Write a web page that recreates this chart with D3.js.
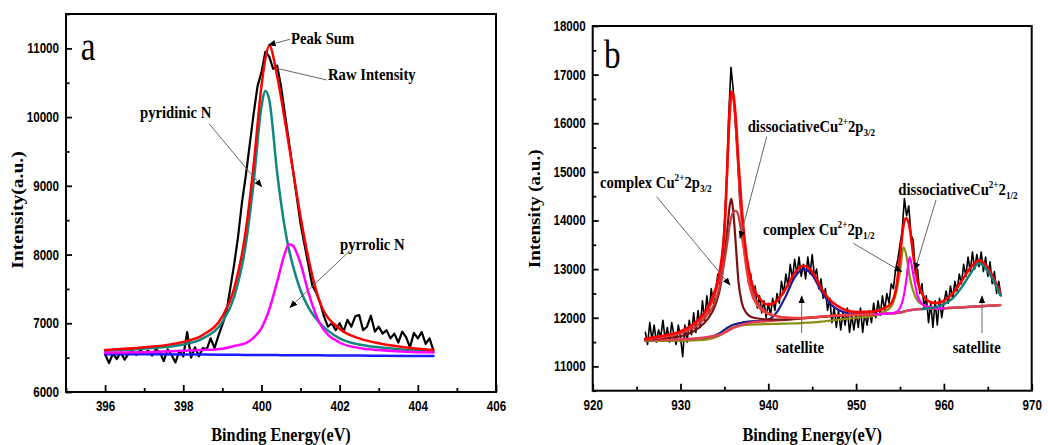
<!DOCTYPE html>
<html><head><meta charset="utf-8">
<script src="https://cdn.jsdelivr.net/npm/d3@7"></script>
<style>
html,body{margin:0;padding:0;background:#fff;}
svg{display:block;}
</style></head>
<body>
<svg id="chart" width="1048" height="445"></svg>
<script>
// ================= Panel a : N 1s =================
const aTicksX = [396, 398, 400, 402, 404, 406];
const aMinorX = [395, 397, 399, 401, 403, 405];
const aTicksY = [6000, 7000, 8000, 9000, 10000, 11000];
const aMinorY = [6500, 7500, 8500, 9500, 10500, 11500];

const aRawStart = 396, aRawStep = 0.1;
const aRaw = [6550,6420,6560,6480,6580,6470,6560,6600,6540,6610,
  6560,6600,6530,6620,6580,6450,6620,6540,6430,6600,
  6520,6870,6500,6650,6520,6640,6620,6780,6640,6820,
  6980,7150,7500,7850,8250,8750,9150,9600,10050,10450,
  10650,10950,10880,10700,10750,10450,10050,9650,9250,8850,
  8450,8150,7850,7550,7450,7300,7100,6950,7000,6900,
  7000,6880,7050,6950,7100,7120,6900,6950,7110,6880,
  6950,6850,6900,6780,6850,6720,6880,6800,6650,6860,
  6780,6870,6700,6780,6600];

const aFitE = [396, 397, 398, 398.5, 399, 399.3, 399.6, 399.8, 400, 400.1, 400.2, 400.4, 400.6, 400.7, 400.8, 401, 401.2, 401.5, 402, 402.5, 403, 404, 404.4];
const aPyridinic = [6600,6630,6690,6780,7020,7380,8150,9050,10150,10380,10250,9200,8380,8080,7850,7480,7230,7000,6780,6690,6650,6600,6585];
const aPyrrolic  = [6570,6580,6600,6610,6630,6670,6710,6790,6930,7050,7200,7600,8020,8150,8130,7870,7450,6990,6720,6640,6610,6580,6575];
const aPeakSum   = [6610,6650,6730,6830,7100,7500,8350,9300,10450,10850,11040,10600,9950,9600,9250,8550,7950,7300,6920,6780,6710,6630,6610];
const aBackground= [6550,6548,6545,6544,6542,6541,6540,6539,6538,6538,6537,6537,6536,6536,6535,6535,6534,6533,6531,6530,6528,6524,6522];

// ================= Panel b : Cu 2p =================
const bTicksX = [920, 930, 940, 950, 960, 970];
const bMinorX = [925, 935, 945, 955, 965];
const bTicksY = [11000, 12000, 13000, 14000, 15000, 16000, 17000, 18000];
const bMinorY = [10500, 11500, 12500, 13500, 14500, 15500, 16500, 17500];

const bRawStart = 926, bRawStep = 0.25;
const bRaw = [11700,11450,11900,11550, 11850,11500,11750,11600, 11950,11550,11800,11500,
  11900,11650,11450,11850, 11600,11200,11850,11500, 11950,11650,12100,11700,
  12150,11800,12350,11950, 12450,12100,12600,12300, 12550,12900,12700,13300,
  13900,14800,16200,17150, 16700,16000,15300,14400, 14000,13500,13200,12700,
  12900,12400,12650,12200, 12450,12100,12350,12000, 12300,12050,12400,12150,
  12500,12300,12750,12500, 12900,12650,13100,12800, 13200,12900,13250,12850,
  13100,12800,13250,12900, 13300,12850,13000,12600, 12800,12400,12600,12150,
  12400,11900,12200,11800, 12150,11750,12100,11850, 12200,11700,12050,11750,
  12100,11800,12200,11700, 12100,11850,12150,11900, 12300,12000,12350,12050,
  12450,12150,12500,12300, 12700,12600,13000,13200, 13500,13800,14450,14100,
  14300,13700,13600,12900, 13000,12500,12700,12200, 12450,11900,12300,11800,
  12350,11850,12400,12000, 12300,12550,12300,12650, 12400,12750,12550,12900,
  12700,13100,12850,13250, 12950,13350,13000,13300, 13050,13350,12950,13250,
  12850,13150,12700,12950, 12500,12750,12450];

const bFitE = [926, 928, 930, 932, 933, 934, 934.6, 935, 935.3, 935.6, 935.8, 936, 936.3, 936.6, 937, 937.5, 938, 939, 940, 941, 942, 943, 944, 945, 946, 947, 948, 950, 952, 953, 954, 954.6, 955, 955.4, 955.7, 956.1, 956.5, 957, 957.5, 958, 959, 960, 961, 962, 963, 964, 965, 966.4];
const bBackground = [11540,11550,11560,11580,11600,11630,11660,11690,11720,11750,
  11770,11790,11810,11830,11860,11880,11900,11920,11935,11950,
  11960,11975,11990,12005,12020,12035,12045,12060,12070,12080,
  12090,12100,12110,12125,12140,12155,12165,12175,12180,12185,
  12190,12195,12205,12215,12225,12235,12245,12260];
const bSatellite1 = [11530,11535,11540,11550,11580,11640,11700,11750,11790,11820,
  11840,11855,11870,11885,11900,11915,11925,11935,11960,12120,
  12450,12830,13000,12880,12560,12300,12160,12070,12070,12080,
  12090,12100,12110,12125,12140,12155,12165,12175,12180,12185,
  12190,12195,12205,12215,12225,12235,12245,12260];
const bComplex12 = [11520,11525,11530,11540,11555,11600,11650,11700,11740,11770,
  11790,11805,11820,11830,11845,11855,11860,11865,11870,11875,
  11880,11885,11895,11905,11920,11940,11960,12000,12040,12110,
  12230,12550,12950,13450,13300,12850,12550,12350,12280,12230,
  12200,12200,12205,12215,12225,12235,12245,12260];
const bDissoc12 = [null,null,null,null,null,null,null,null,null,null,
  null,null,null,null,null,null,null,null,null,null,
  null,null,null,null,null,null,null,12060,12070,12080,
  12095,12120,12200,12420,12750,13250,12900,12450,12290,12240,
  12200,12195,null,null,null,null,null,null];
const bSatellite2 = [null,null,null,null,null,null,null,null,null,null,
  null,null,null,null,null,null,null,null,null,null,
  null,null,null,null,null,null,null,null,null,null,
  null,null,null,null,null,null,null,null,12180,12190,
  12220,12280,12400,12620,12900,13120,12960,12470];
const bComplex32 = [11550,11580,11620,11780,11950,12280,12700,13300,13750,14300,
  14450,14200,13500,12750,12300,12100,12020,11980,11965,11960,
  11960,11975,11990,12005,12020,12035,12045,12060,12070,null,
  null,null,null,null,null,null,null,null,null,null,
  null,null,null,null,null,null,null,null];
const bDissoc32 = [11560,11600,11680,11850,12050,12350,12750,13150,13500,13900,
  14080,14170,14200,14100,13650,13100,12650,12250,12100,12030,
  12000,11990,11995,12005,12020,12035,12045,12060,12070,null,
  null,null,null,null,null,null,null,null,null,null,
  null,null,null,null,null,null,null,null];
const bSum32 = [11560,11610,11700,11920,12120,12520,13000,13700,14900,16100,
  16550,16500,15900,15000,13900,13000,12550,12200,12080,12030,
  12010,12000,12000,12010,12025,12038,12048,12060,12070,null,
  null,null,null,null,null,null,null,null,null,null,
  null,null,null,null,null,null,null,null];
const bEnvelope = [11570,11630,11720,11950,12180,12600,13100,13800,15000,16300,
  16650,16600,16100,15200,14200,13300,12800,12400,12270,12350,
  12600,12920,13070,12950,12620,12370,12230,12120,12130,12180,
  12300,12650,13250,13900,14050,13850,13300,12750,12500,12370,
  12300,12350,12500,12750,13020,13180,13030,12530];

// ================= drawing =================
const SX = 0.83;
const SERIF = "'Liberation Serif','Times New Roman',Times,serif";
const SANS = "'Liberation Sans',Arial,Helvetica,sans-serif";
const svg = d3.select("#chart");

const defs = svg.append("defs");
defs.append("marker").attr("id", "ah").attr("viewBox", "0 0 10 10")
  .attr("refX", 9).attr("refY", 5).attr("markerWidth", 8).attr("markerHeight", 8)
  .attr("markerUnits", "userSpaceOnUse").attr("orient", "auto")
  .append("path").attr("d", "M0,1 L10,5 L0,9 z").attr("fill", "#000");

function drawPanel(cfg) {
  const x = d3.scaleLinear().domain(cfg.xDomain).range([cfg.left, cfg.right]);
  const y = d3.scaleLinear().domain(cfg.yDomain).range([cfg.bottom, cfg.top]);
  const g = svg.append("g");

  cfg.series.forEach(s => {
    const pts = s.values.map((v, i) => [s.xs ? s.xs[i] : s.x0 + i * s.step, v]).filter(p => p[1] != null);
    g.append("path").datum(pts)
      .attr("d", d3.line().x(d => x(d[0])).y(d => y(d[1])).curve(s.curve || d3.curveLinear))
      .attr("fill", "none").attr("stroke", s.color).attr("stroke-width", s.width)
      .attr("stroke-linejoin", "round").attr("stroke-linecap", "round");
  });

  function styleAxis(ga) {
    ga.select(".domain").remove();
    ga.selectAll("line").attr("stroke", "#000").attr("stroke-width", 1.8);
    ga.selectAll("text").attr("font-family", SANS).attr("font-weight", "bold")
      .attr("font-size", 14).attr("fill", "#000").attr("transform", `scale(${SX},1)`);
  }
  styleAxis(g.append("g").attr("transform", `translate(0,${cfg.bottom})`)
    .call(d3.axisBottom(x).tickValues(cfg.xTicks).tickSize(-7).tickPadding(9).tickFormat(d3.format("d"))));
  styleAxis(g.append("g").attr("transform", `translate(0,${cfg.bottom})`)
    .call(d3.axisBottom(x).tickValues(cfg.xMinor).tickSize(-4).tickFormat(() => "")));
  styleAxis(g.append("g").attr("transform", `translate(${cfg.left},0)`)
    .call(d3.axisLeft(y).tickValues(cfg.yTicks).tickSize(-6).tickPadding(8.4).tickFormat(d3.format("d"))));
  styleAxis(g.append("g").attr("transform", `translate(${cfg.left},0)`)
    .call(d3.axisLeft(y).tickValues(cfg.yMinor).tickSize(-3.5).tickFormat(() => "")));

  g.append("rect").attr("x", cfg.left).attr("y", cfg.top)
    .attr("width", cfg.right - cfg.left).attr("height", cfg.bottom - cfg.top)
    .attr("fill", "none").attr("stroke", "#000").attr("stroke-width", 2);

  g.append("text").attr("transform", `translate(${(cfg.left + cfg.right) / 2},441) scale(${SX},1)`)
    .attr("text-anchor", "middle").attr("font-family", SERIF).attr("font-weight", "bold")
    .attr("font-size", 19.6).text("Binding Energy(eV)");
  g.append("text").attr("transform", `translate(${cfg.yTitleX},${(cfg.top + cfg.bottom) / 2 + cfg.yTitleDy}) scale(${SX},1) rotate(-90)`)
    .attr("text-anchor", "middle").attr("font-family", SERIF).attr("font-weight", "bold")
    .attr("font-size", cfg.yTitleSize).text(cfg.yTitle);

  g.append("text").attr("transform", `translate(${x(cfg.letter[1])},${y(cfg.letter[2])}) scale(${SX},1)`)
    .attr("font-family", SERIF).attr("font-size", 40).text(cfg.letter[0]);

  cfg.notes.forEach(n => {
    if (n.line) {
      const l = g.append("line")
        .attr("x1", x(n.line[0])).attr("y1", y(n.line[1]))
        .attr("x2", x(n.line[2])).attr("y2", y(n.line[3]))
        .attr("stroke", "#666").attr("stroke-width", 1);
      if (n.arrow) l.attr("marker-end", "url(#ah)");
    }
    const t = g.append("text")
      .attr("transform", `translate(${x(n.at[0])},${y(n.at[1])}) scale(${SX},1)`)
      .attr("text-anchor", n.anchor || "start").attr("font-family", SERIF).attr("font-weight", "bold");
    n.parts.forEach(p => t.append("tspan").attr("font-size", p[1]).attr("dy", p[2] || 0).text(p[0]));
  });
}

const mono = d3.curveMonotoneX;

drawPanel({
  xDomain: [395, 406], yDomain: [6000, 11500],
  left: 66, right: 496, top: 14, bottom: 392,
  xTicks: aTicksX, xMinor: aMinorX, yTicks: aTicksY, yMinor: aMinorY,
  yTitle: "Intensity(a.u.)", yTitleX: 23, yTitleDy: 7, yTitleSize: 19.6,
  letter: ["a", 395.38, 10830],
  series: [
    {x0: aRawStart, step: aRawStep, values: aRaw, color: "#000", width: 2.2},
    {xs: aFitE, values: aBackground, color: "#1a1aff", width: 2.5, curve: mono},
    {xs: aFitE, values: aPyridinic, color: "#10877f", width: 2.5, curve: mono},
    {xs: aFitE, values: aPyrrolic, color: "#ff00ff", width: 2.5, curve: mono},
    {xs: aFitE, values: aPeakSum, color: "#ff0000", width: 2.5, curve: mono}
  ],
  notes: [
    {at: [400.756, 11063], parts: [["Peak Sum", 17.7]], line: [400.73, 11132, 400.175, 11049], arrow: true},
    {at: [401.702, 10540], parts: [["Raw Intensity", 17.7]], line: [401.669, 10540, 400.39, 10710], arrow: false},
    {at: [396.893, 9987], parts: [["pyridinic N", 17.7]], line: [398.666, 9900, 400.006, 8987], arrow: true},
    {at: [402.01, 8066], parts: [["pyrrolic N", 17.7]], line: [402.265, 8056, 400.73, 7232], arrow: true}
  ]
});

drawPanel({
  xDomain: [920, 970], yDomain: [10500, 18000],
  left: 592.7, right: 1031.7, top: 26, bottom: 390.7,
  xTicks: bTicksX, xMinor: bMinorX, yTicks: bTicksY, yMinor: bMinorY,
  yTitle: "Intensity (a.u.)", yTitleX: 539.5, yTitleDy: 0.5, yTitleSize: 19,
  letter: ["b", 921.29, 17130],
  series: [
    {x0: bRawStart, step: bRawStep, values: bRaw, color: "#000", width: 1.6},
    {xs: bFitE, values: bSatellite1, color: "#1c1c96", width: 2.2, curve: mono},
    {xs: bFitE, values: bComplex12, color: "#8c8c10", width: 2.2, curve: mono},
    {xs: bFitE, values: bBackground, color: "#e0405a", width: 2.5, curve: mono},
    {xs: bFitE, values: bDissoc12, color: "#ff00ff", width: 2.2, curve: mono},
    {xs: bFitE, values: bComplex32, color: "#7a1010", width: 2.2, curve: mono},
    {xs: bFitE, values: bDissoc32, color: "#c43c3c", width: 2.2, curve: mono},
    {xs: bFitE, values: bSum32, color: "#f04040", width: 2.2, curve: mono},
    {xs: bFitE, values: bEnvelope, color: "#ff0000", width: 2.6, curve: mono},
    {xs: bFitE, values: bSatellite2, color: "#0e8080", width: 2.4, curve: mono}
  ],
  notes: [
    {at: [937.654, 15820], parts: [["dissociativeCu", 17.7], ["2+", 11, -7], ["2p", 17.7, 7], ["3/2", 11, 4]],
     line: [939.818, 15723, 936.777, 13634], arrow: true},
    {at: [920.831, 14668], parts: [["complex Cu", 17.7], ["2+", 11, -7], ["2p", 17.7, 7], ["3/2", 11, 4]],
     line: [927.289, 14490, 935.637, 12674], arrow: true},
    {at: [939.396, 13702], parts: [["complex Cu", 17.7], ["2+", 11, -7], ["2p", 17.7, 7], ["1/2", 11, 4]],
     line: [949.681, 13531, 955.194, 12947], arrow: true},
    {at: [954.806, 14524], parts: [["dissociativeCu", 17.7], ["2+", 11, -7], ["2", 17.7, 7], ["1/2", 11, 4]],
     line: [959.1, 14422, 956.708, 12982], arrow: true},
    {at: [943.61, 11275], anchor: "middle", parts: [["satellite", 17.7]], line: [943.804, 11687, 943.804, 12447], arrow: true},
    {at: [963.736, 11275], anchor: "middle", parts: [["satellite", 17.7]], line: [964.339, 11687, 964.339, 12447], arrow: true}
  ]
});
</script>
</body></html>
